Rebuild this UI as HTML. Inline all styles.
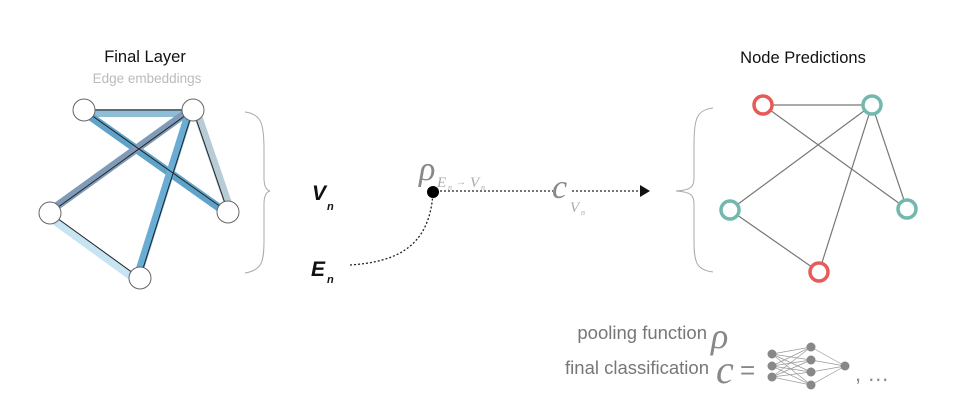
<!DOCTYPE html>
<html><head><meta charset="utf-8"><style>
html,body{margin:0;padding:0;background:#fff;width:956px;height:411px;overflow:hidden}
svg{display:block}
text{font-family:"Liberation Sans",sans-serif}
.m{font-family:"Liberation Serif",serif;font-style:italic}
</style></head><body>
<svg width="956" height="411" viewBox="0 0 956 411" xmlns="http://www.w3.org/2000/svg">
<text x="145" y="62" font-size="16.5" text-anchor="middle" fill="#111">Final Layer</text>
<text x="147" y="83" font-size="13.5" text-anchor="middle" fill="#bbb">Edge embeddings</text>
<g stroke-linecap="round">
<line x1="84" y1="110" x2="193" y2="110" stroke="#8fbdd6" stroke-width="8" transform="translate(0,3)"/>
<line x1="84" y1="110" x2="228" y2="212" stroke="#5fa3c9" stroke-width="8" transform="translate(0,2)"/>
<line x1="193" y1="110" x2="50" y2="213" stroke="#7f9bb8" stroke-width="8" transform="translate(0,-2)"/>
<line x1="193" y1="110" x2="228" y2="212" stroke="#b8ccd8" stroke-width="8" transform="translate(3,0)"/>
<line x1="193" y1="110" x2="140" y2="278" stroke="#69acd4" stroke-width="8" transform="translate(-3,0)"/>
<line x1="50" y1="213" x2="140" y2="278" stroke="#c6e4f2" stroke-width="8" transform="translate(-2,3)"/>
</g>
<g stroke="#222" stroke-width="1">
<line x1="84" y1="110" x2="193" y2="110"/>
<line x1="84" y1="110" x2="228" y2="212"/>
<line x1="193" y1="110" x2="50" y2="213"/>
<line x1="193" y1="110" x2="228" y2="212"/>
<line x1="193" y1="110" x2="140" y2="278"/>
<line x1="50" y1="213" x2="140" y2="278"/>
</g>
<g fill="#fff" stroke="#666" stroke-width="1">
<circle cx="84" cy="110" r="11"/><circle cx="193" cy="110" r="11"/>
<circle cx="50" cy="213" r="11"/><circle cx="228" cy="212" r="11"/>
<circle cx="140" cy="278" r="11"/>
</g>
<path d="M245 112 C262 114 264 125 264 150 L264 178 C264 186 266 190 270 191 C266 192 264 196 264 204 L264 240 C264 262 262 270 245 273" fill="none" stroke="#aaa" stroke-width="1"/>
<path d="M713 108 C696 110 694 120 694 145 L694 178 C694 186 692 190 676 191 C692 192 694 196 694 204 L694 240 C694 262 696 270 713 272" fill="none" stroke="#aaa" stroke-width="1"/>
<text x="312" y="200" font-size="21" font-style="italic" font-weight="bold" fill="#111">V</text>
<text x="327" y="210" font-size="11" font-style="italic" font-weight="bold" fill="#111">n</text>
<text x="311" y="276" font-size="21" font-style="italic" font-weight="bold" fill="#111">E</text>
<text x="327" y="283" font-size="11" font-style="italic" font-weight="bold" fill="#111">n</text>
<path d="M350 265 C395 262 430 248 433 192" fill="none" stroke="#222" stroke-width="1.3" stroke-dasharray="2,2"/>
<line x1="440" y1="191" x2="553" y2="191" stroke="#222" stroke-width="1.3" stroke-dasharray="2,2"/>
<line x1="572" y1="191" x2="642" y2="191" stroke="#222" stroke-width="1.3" stroke-dasharray="2,2"/>
<polygon points="640,185 650,191 640,197" fill="#111"/>
<circle cx="433" cy="192" r="6" fill="#000"/>
<text x="419" y="180" font-size="34" class="m" fill="#888">ρ</text>
<text x="437" y="187" font-size="15" class="m" fill="#aaa">E</text>
<text x="448" y="190" font-size="8" class="m" fill="#aaa">n</text>
<text x="456" y="185" font-size="10" fill="#aaa">→</text>
<text x="470" y="187" font-size="15" class="m" fill="#aaa">V</text>
<text x="481" y="190" font-size="8" class="m" fill="#aaa">n</text>
<text x="552" y="198" font-size="34" class="m" fill="#888">c</text>
<text x="570" y="212" font-size="15" class="m" fill="#aaa">V</text>
<text x="581" y="215" font-size="8" class="m" fill="#aaa">n</text>
<text x="803" y="63" font-size="16.5" text-anchor="middle" fill="#111">Node Predictions</text>
<g stroke="#777" stroke-width="1.2">
<line x1="763" y1="105" x2="872" y2="105"/>
<line x1="763" y1="105" x2="907" y2="209"/>
<line x1="872" y1="105" x2="730" y2="210"/>
<line x1="872" y1="105" x2="907" y2="209"/>
<line x1="872" y1="105" x2="819" y2="272"/>
<line x1="730" y1="210" x2="819" y2="272"/>
</g>
<g fill="#fff" stroke-width="3.5">
<circle cx="763" cy="105" r="9" stroke="#e85a5a"/>
<circle cx="872" cy="105" r="9" stroke="#72b8ad"/>
<circle cx="730" cy="210" r="9" stroke="#72b8ad"/>
<circle cx="907" cy="209" r="9" stroke="#72b8ad"/>
<circle cx="819" cy="272" r="9" stroke="#e85a5a"/>
</g>
<text x="707" y="339" font-size="18.5" text-anchor="end" fill="#777">pooling function</text>
<text x="711" y="348" font-size="36" class="m" fill="#888">ρ</text>
<text x="709" y="374" font-size="18.5" text-anchor="end" fill="#777">final classification</text>
<text x="716" y="383" font-size="40" class="m" fill="#888">c</text>
<text x="740" y="379" font-size="26" fill="#888">=</text>
<g stroke="#999" stroke-width="0.7">
<line x1="772" y1="354" x2="811" y2="347"/><line x1="772" y1="354" x2="811" y2="360"/><line x1="772" y1="354" x2="811" y2="372"/><line x1="772" y1="354" x2="811" y2="385"/>
<line x1="772" y1="366" x2="811" y2="347"/><line x1="772" y1="366" x2="811" y2="360"/><line x1="772" y1="366" x2="811" y2="372"/><line x1="772" y1="366" x2="811" y2="385"/>
<line x1="772" y1="377" x2="811" y2="347"/><line x1="772" y1="377" x2="811" y2="360"/><line x1="772" y1="377" x2="811" y2="372"/><line x1="772" y1="377" x2="811" y2="385"/>
<line x1="811" y1="347" x2="845" y2="366"/><line x1="811" y1="360" x2="845" y2="366"/><line x1="811" y1="372" x2="845" y2="366"/><line x1="811" y1="385" x2="845" y2="366"/>
</g>
<g fill="#888">
<circle cx="772" cy="354" r="4.5"/><circle cx="772" cy="366" r="4.5"/><circle cx="772" cy="377" r="4.5"/>
<circle cx="811" cy="347" r="4.5"/><circle cx="811" cy="360" r="4.5"/><circle cx="811" cy="372" r="4.5"/><circle cx="811" cy="385" r="4.5"/>
<circle cx="845" cy="366" r="4.5"/>
</g>
<text x="855" y="381" font-size="22" fill="#888">, …</text>
</svg>
</body></html>
